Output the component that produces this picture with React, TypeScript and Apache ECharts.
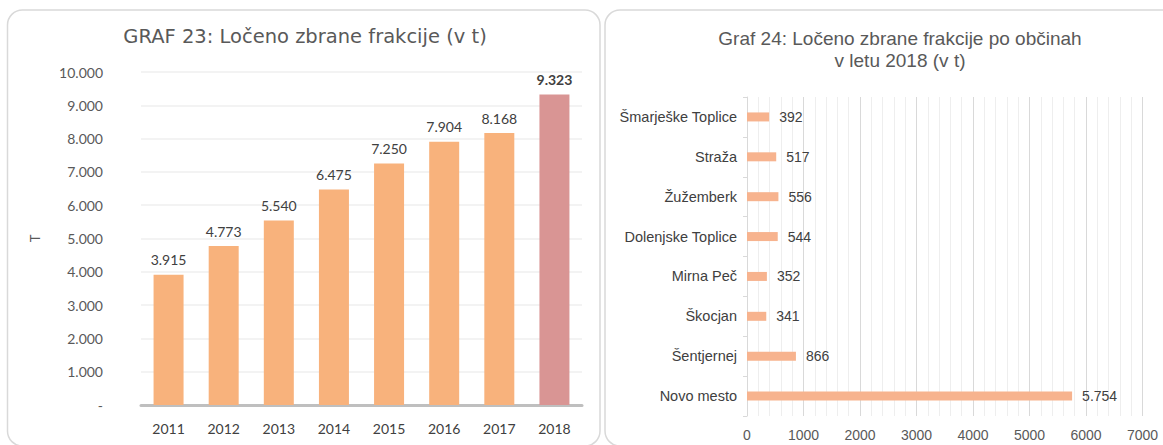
import React, { useEffect, useRef } from "react";
import * as echarts from "echarts";

const years = ["2011", "2012", "2013", "2014", "2015", "2016", "2017", "2018"];
const yearValues = [3915, 4773, 5540, 6475, 7250, 7904, 8168, 9323];

const municipalities = [
  "Šmarješke Toplice",
  "Straža",
  "Žužemberk",
  "Dolenjske Toplice",
  "Mirna Peč",
  "Škocjan",
  "Šentjernej",
  "Novo mesto",
];
const municipalityValues = [392, 517, 556, 544, 352, 341, 866, 5754];

const leftTitle = "GRAF 23: Ločeno zbrane frakcije (v t)";
const rightTitle = "Graf 24: Ločeno zbrane frakcije po občinah\nv letu 2018 (v t)";

const fmtDot = (v: number) => String(v).replace(/\B(?=(\d{3})+(?!\d))/g, ".");

const ORANGE = "#F8B27C";
const PINK = "#D99594";
const SALMON = "#F7B38E";
const CAL = "Lato, 'Open Sans', sans-serif";
const NARROW = "'Liberation Sans Narrow', 'Liberation Sans', Arial, sans-serif";

export default function App() {
  const ref = useRef<HTMLDivElement>(null);
  useEffect(() => {
    if (!ref.current) return;
    const chart = echarts.init(ref.current, null, { renderer: "svg" });
    chart.setOption({
      animation: false,
      backgroundColor: "#ffffff",
      graphic: [
        {
          type: "rect",
          z: -10,
          shape: { x: 7.5, y: 10, width: 592.5, height: 436, r: 15 },
          style: { fill: "#ffffff", stroke: "#d9d9d9", lineWidth: 1.5 },
        },
        {
          type: "rect",
          z: -10,
          shape: { x: 605, y: 10, width: 600, height: 436, r: 15 },
          style: { fill: "#ffffff", stroke: "#d9d9d9", lineWidth: 1.5 },
        },
      ],
      title: [
        {
          text: leftTitle,
          left: 300,
          textAlign: "center",
          top: 21,
          textStyle: { fontFamily: "'DejaVu Sans', 'Open Sans', sans-serif", fontSize: 19.5, fontWeight: "normal", color: "#595959" },
        },
        {
          text: rightTitle,
          left: 895,
          textAlign: "center",
          top: 22,
          textStyle: {
            fontFamily: NARROW,
            fontSize: 19,
            fontWeight: "normal",
            color: "#595959",
            lineHeight: 22,
          },
        },
      ],
      grid: [
        { left: 141, top: 72, width: 441, height: 333, containLabel: false },
        { left: 747, top: 97, width: 395.5, height: 319, containLabel: false },
      ],
      xAxis: [
        {
          type: "category",
          gridIndex: 0,
          data: years,
          axisLine: { show: true, lineStyle: { color: "#bfbfbf", width: 3 } },
          axisTick: { show: false },
          axisLabel: { fontFamily: CAL, fontSize: 14, color: "#404040", margin: 16 },
          splitLine: { show: false },
        },
        {
          type: "value",
          gridIndex: 1,
          min: 0,
          max: 7000,
          interval: 1000,
          axisLine: { show: false },
          axisTick: { show: false },
          axisLabel: {
            fontFamily: NARROW,
            fontSize: 14,
            color: "#595959",
            margin: 12,
            formatter: (v: number) => String(v),
          },
          splitLine: { show: true, lineStyle: { color: "#d9d9d9", width: 1 } },
          minorTick: { show: false, splitNumber: 5 },
          minorSplitLine: { show: true, lineStyle: { color: "#eeeeee", width: 1 } },
        },
      ],
      yAxis: [
        {
          type: "value",
          gridIndex: 0,
          min: 0,
          max: 10000,
          interval: 1000,
          name: "T",
          nameLocation: "middle",
          nameGap: 100,
          nameTextStyle: { fontFamily: CAL, fontSize: 13, color: "#595959" },
          axisLine: { show: false },
          axisTick: { show: false },
          axisLabel: {
            fontFamily: CAL,
            fontSize: 14,
            color: "#595959",
            margin: 38,
            formatter: (v: number) => (v === 0 ? "-" : fmtDot(v)),
          },
          splitLine: { show: true, lineStyle: { color: "#efefef", width: 1.5 } },
        },
        {
          type: "category",
          gridIndex: 1,
          inverse: true,
          data: municipalities,
          axisLine: { show: true, lineStyle: { color: "#d9d9d9", width: 1 } },
          axisTick: { show: true, length: 4, lineStyle: { color: "#d9d9d9" } },
          axisLabel: { fontFamily: NARROW, fontSize: 14.5, color: "#404040", margin: 10 },
          splitLine: { show: false },
        },
      ],
      series: [
        {
          type: "bar",
          xAxisIndex: 0,
          yAxisIndex: 0,
          barWidth: 30,
          data: yearValues.map((v, i) => ({
            value: v,
            itemStyle: { color: i === yearValues.length - 1 ? PINK : ORANGE },
            label:
              i === yearValues.length - 1
                ? { fontWeight: "bold", color: "#404040" }
                : undefined,
          })),
          label: {
            show: true,
            position: "top",
            distance: 8,
            fontFamily: CAL,
            fontSize: 14,
            color: "#404040",
            formatter: (p: any) => fmtDot(p.value),
          },
        },
        {
          type: "bar",
          xAxisIndex: 1,
          yAxisIndex: 1,
          barWidth: 9,
          itemStyle: { color: SALMON },
          data: municipalityValues,
          label: {
            show: true,
            position: "right",
            distance: 10,
            fontFamily: NARROW,
            fontSize: 14,
            color: "#404040",
            formatter: (p: any) => fmtDot(p.value),
          },
        },
      ],
    });
    return () => chart.dispose();
  }, []);
  return (
    <div
      ref={ref}
      style={{ position: "fixed", left: 0, top: 0, width: 1163, height: 445 }}
    />
  );
}
